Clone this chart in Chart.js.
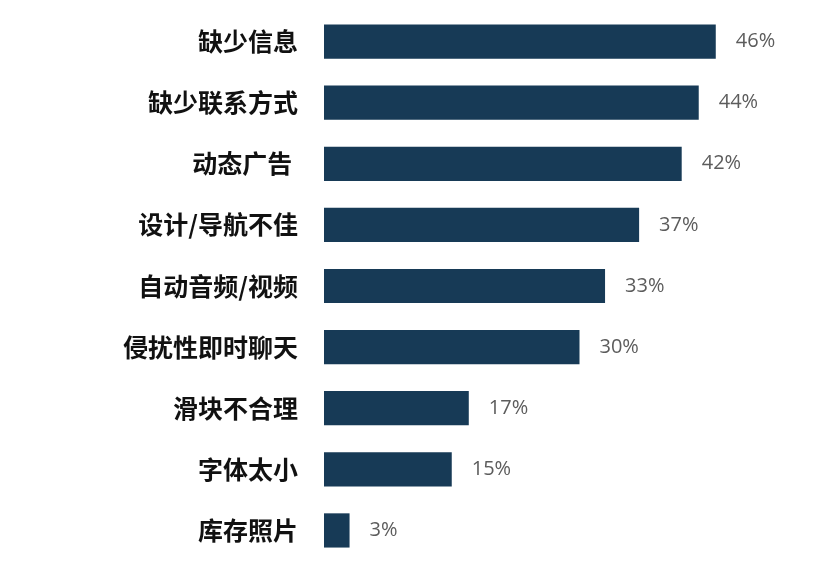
<!DOCTYPE html>
<html>
<head>
<meta charset="utf-8">
<script src="https://cdn.jsdelivr.net/npm/chart.js@4.4.1/dist/chart.umd.min.js"></script>
<style>
html,body{margin:0;padding:0;background:#fff;overflow:hidden;}
canvas{display:block;}
</style>
</head>
<body>
<canvas id="c" width="836" height="567" style="width:836px;height:567px;"></canvas>
<script>
const categories = ["缺少信息","缺少联系方式","动态广告 ","设计/导航不佳","自动音频/视频","侵扰性即时聊天","滑块不合理","字体太小","库存照片"];
const values = [46,44,42,37,33,30,17,15,3];
const valueLabels = ["46%","44%","42%","37%","33%","30%","17%","15%","3%"];

const valuePlugin = {
  id: 'valueLabels',
  afterDatasetsDraw(chart) {
    const ctx = chart.ctx;
    const meta = chart.getDatasetMeta(0);
    ctx.save();
    ctx.font = '20px "Open Sans", sans-serif';
    ctx.fillStyle = '#5c5c5c';
    ctx.textAlign = 'left';
    ctx.textBaseline = 'middle';
    meta.data.forEach((bar, i) => {
      ctx.fillText(valueLabels[i], bar.x + 20, bar.y);
    });
    ctx.restore();
  }
};

new Chart(document.getElementById('c'), {
  type: 'bar',
  data: {
    labels: categories,
    datasets: [{
      data: values,
      backgroundColor: '#173a56',
      borderWidth: 0,
      barPercentage: 0.56,
      categoryPercentage: 1.0
    }]
  },
  options: {
    indexAxis: 'y',
    responsive: false,
    maintainAspectRatio: false,
    animation: false,
    devicePixelRatio: 1,
    layout: { padding: { left: 0, right: 1, top: 11, bottom: 6 } },
    plugins: { legend: { display: false }, tooltip: { enabled: false } },
    scales: {
      x: {
        display: false,
        min: 0,
        max: 60
      },
      y: {
        grid: { display: false, drawTicks: false },
        border: { display: false },
        ticks: {
          padding: 26,
          color: '#111',
          font: { family: '"Noto Sans CJK SC", sans-serif', size: 25, weight: 'bold' }
        },
        afterFit(scale) { scale.width = 324; scale.paddingTop = 0; scale.paddingBottom = 0; }
      }
    }
  },
  plugins: [valuePlugin]
});
</script>
</body>
</html>
